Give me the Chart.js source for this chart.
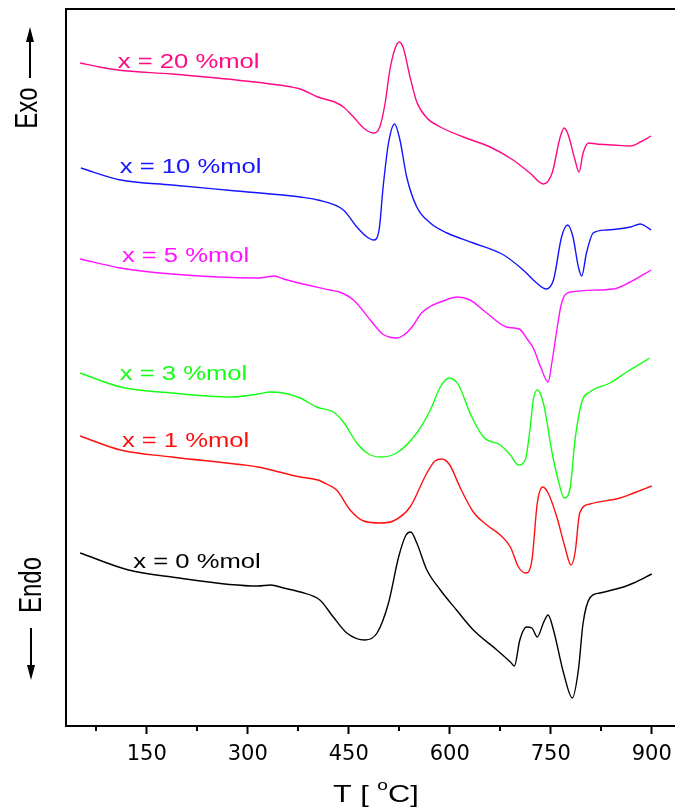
<!DOCTYPE html>
<html>
<head>
<meta charset="utf-8">
<script src="https://cdn.jsdelivr.net/npm/chart.js@4.4.1/dist/chart.umd.min.js"></script>
<style>
  html, body { margin: 0; padding: 0; background: #fff; overflow: hidden; }
  .chart-container { position: relative; width: 675px; height: 807px; }
</style>
</head>
<body>
<div class="chart-container"><canvas id="myChart"></canvas></div>
<script>
// DTA curves, temperature in deg C, signal in arbitrary units (curves offset)
const seriesNames = ['x = 20 %mol', 'x = 10 %mol', 'x = 5 %mol', 'x = 3 %mol', 'x = 1 %mol', 'x = 0 %mol'];
const seriesColors = ['#ff0a82', '#1414ff', '#ff14ff', '#14ff14', '#ff1010', '#000000'];
const tickValues = [75, 150, 225, 300, 375, 450, 525, 600, 675, 750, 825, 900];

const temp20 = [51, 80, 107, 187, 283, 365, 378, 404, 429, 442, 457, 472, 486, 496, 504, 511, 519, 525, 531, 541, 551, 566, 586, 620, 660, 694, 719, 739, 752, 764, 770, 776, 786, 792, 798, 806, 818, 843, 868, 883, 899];
const dta20  = [66.3, 65.9, 65.6, 65.2, 64.6, 63.9, 63.7, 62.9, 62.4, 61.9, 60.9, 59.8, 59.3, 59.9, 62.3, 65.6, 67.8, 68.4, 67.8, 64.9, 62.4, 60.8, 59.9, 58.9, 57.9, 56.6, 55.3, 54.2, 55.3, 58.9, 59.8, 59.1, 56.6, 55.4, 57.3, 58.3, 58.2, 58.1, 58.0, 58.4, 59.0];

const temp10 = [52, 111, 187, 283, 378, 404, 442, 462, 477, 487, 495, 501, 509, 518, 526, 536, 551, 571, 596, 635, 680, 709, 729, 743, 754, 766, 775, 783, 791, 796, 803, 813, 833, 868, 883, 890, 899];
const dta10  = [55.8, 54.6, 54.1, 53.5, 52.9, 52.6, 51.6, 49.9, 48.9, 48.6, 49.6, 53.9, 58.3, 60.2, 58.6, 54.9, 51.9, 50.3, 49.3, 48.3, 47.1, 45.6, 44.3, 43.7, 44.6, 48.9, 50.1, 48.9, 45.9, 45.0, 47.3, 49.3, 49.6, 49.9, 50.2, 50.0, 49.6];

const temp5 = [51, 111, 187, 315, 340, 353, 422, 436, 457, 482, 500, 510, 521, 532, 545, 558, 572, 590, 611, 630, 655, 684, 703, 716, 724, 735, 746, 752, 759, 765, 770, 779, 843, 868, 899];
const dta5  = [46.7, 45.8, 45.2, 44.8, 45.0, 44.7, 43.6, 43.4, 42.6, 40.6, 39.2, 38.9, 38.8, 39.1, 40.0, 41.3, 42.0, 42.5, 42.9, 42.6, 41.3, 39.9, 39.7, 38.6, 37.8, 35.9, 34.4, 36.5, 39.6, 42.0, 43.0, 43.4, 43.7, 44.4, 45.6];

const temp3 = [51, 111, 187, 276, 315, 334, 353, 378, 402, 427, 442, 462, 477, 497, 521, 551, 571, 586, 599, 613, 630, 650, 675, 690, 702, 712, 719, 724, 730, 739, 752, 761, 770, 779, 786, 796, 808, 838, 863, 897];
const dta3  = [35.3, 33.9, 33.3, 32.9, 33.2, 33.4, 33.3, 32.8, 31.9, 31.4, 30.4, 28.3, 27.3, 26.9, 27.3, 29.3, 31.6, 33.9, 34.8, 34.1, 31.3, 28.9, 28.1, 27.1, 26.1, 26.6, 29.6, 32.6, 33.6, 32.3, 27.3, 24.6, 22.8, 23.9, 28.6, 32.4, 33.4, 34.3, 35.4, 36.8];

const temp1 = [51, 111, 187, 295, 315, 378, 404, 417, 432, 452, 472, 497, 516, 541, 566, 578, 588, 600, 615, 635, 655, 675, 690, 702, 713, 722, 730, 738, 746, 759, 771, 780, 786, 793, 808, 853, 873, 900];
const dta1  = [29.0, 27.6, 26.9, 26.1, 25.9, 24.9, 24.6, 24.2, 23.6, 21.6, 20.5, 20.3, 20.5, 21.9, 25.3, 26.5, 26.7, 26.1, 23.9, 21.4, 20.1, 19.1, 17.9, 15.9, 15.3, 16.6, 22.3, 23.9, 23.3, 20.9, 17.9, 16.1, 17.3, 21.3, 22.2, 22.8, 23.3, 24.0];

const temp0 = [51, 123, 187, 315, 334, 353, 378, 407, 427, 447, 474, 492, 509, 524, 535, 542, 551, 566, 586, 610, 635, 670, 690, 696, 704, 714, 722, 730, 739, 746, 754, 769, 782, 791, 798, 808, 823, 858, 873, 900];
const dta0  = [17.3, 15.6, 14.9, 14.0, 14.1, 13.8, 13.4, 12.6, 10.9, 9.3, 8.6, 9.3, 12.3, 16.9, 19.1, 19.4, 18.3, 15.6, 13.6, 11.6, 9.6, 7.6, 6.4, 6.0, 8.6, 9.9, 9.8, 8.9, 10.3, 11.1, 9.6, 5.3, 2.8, 5.6, 10.3, 12.8, 13.3, 13.9, 14.3, 15.2];

const allTemps = [temp20, temp10, temp5, temp3, temp1, temp0];
const allDta = [dta20, dta10, dta5, dta3, dta1, dta0];

// where the curve names sit (deg C, a.u. of the baseline)
const nameAnchorT = [107, 110, 113, 110, 113, 130];
const nameAnchorV = [65.8, 55.3, 46.4, 34.6, 27.9, 15.8];

const TEXT_SX = 1.28; // the original picture is stretched sideways

function stretched(ctx, text, x, y, sx) {
    ctx.save();
    ctx.translate(x, y);
    ctx.scale(sx, 1);
    ctx.fillText(text, 0, 0);
    ctx.restore();
    return ctx.measureText(text).width * sx;
}

function arrow(ctx, x, y1, y2) {
    // line from y1 to tip at y2
    let dir = y2 > y1 ? 1 : -1;
    ctx.beginPath();
    ctx.moveTo(x, y1);
    ctx.lineTo(x, y2 - dir * 12);
    ctx.stroke();
    ctx.beginPath();
    ctx.moveTo(x, y2);
    ctx.lineTo(x - 4, y2 - dir * 15);
    ctx.lineTo(x + 4, y2 - dir * 15);
    ctx.closePath();
    ctx.fill();
}

const decor = {
    id: 'decor',
    afterDraw(chart) {
        const ctx = chart.ctx;
        const a = chart.chartArea;
        const xs = chart.scales.x;
        const ys = chart.scales.y;
        ctx.save();
        ctx.strokeStyle = '#000';
        ctx.fillStyle = '#000';
        ctx.lineWidth = 2;

        // frame: left and top
        ctx.beginPath();
        ctx.moveTo(a.left, a.bottom + 1);
        ctx.lineTo(a.left, a.top);
        ctx.lineTo(chart.width, a.top);
        ctx.stroke();

        // minor ticks
        ctx.beginPath();
        xs.ticks.forEach(function (t) {
            if (t.value % 150 !== 0) {
                let px = Math.round(xs.getPixelForValue(t.value));
                ctx.moveTo(px, a.bottom);
                ctx.lineTo(px, a.bottom + 5);
            }
        });
        ctx.stroke();

        // curve names
        ctx.textBaseline = 'alphabetic';
        ctx.textAlign = 'left';
        ctx.font = '20px "Liberation Sans", Arial, sans-serif';
        seriesNames.forEach(function (name, i) {
            ctx.fillStyle = seriesColors[i];
            stretched(ctx, name, xs.getPixelForValue(nameAnchorT[i]), ys.getPixelForValue(nameAnchorV[i]), TEXT_SX);
        });

        // x axis title: T [ oC]
        ctx.fillStyle = '#000';
        ctx.font = '24px "Liberation Sans", Arial, sans-serif';
        let tx = 333, ty = 802;
        tx += stretched(ctx, 'T [ ', tx, ty, TEXT_SX);
        ctx.font = '15px "Liberation Sans", Arial, sans-serif';
        tx += stretched(ctx, 'o', tx, ty - 12, TEXT_SX);
        ctx.font = '24px "Liberation Sans", Arial, sans-serif';
        stretched(ctx, 'C]', tx, ty, TEXT_SX);

        // Exo / Endo
        ctx.font = '24px "Liberation Sans", Arial, sans-serif';
        ctx.textAlign = 'center';
        ctx.textBaseline = 'middle';
        [['Exo', 28, 108], ['Endo', 32, 585]].forEach(function (lab) {
            ctx.save();
            ctx.translate(lab[1], lab[2]);
            ctx.rotate(-Math.PI / 2);
            ctx.scale(1, 1.3);
            ctx.fillText(lab[0], 0, 0);
            ctx.restore();
        });
        ctx.lineWidth = 2;
        arrow(ctx, 30, 78, 27);
        arrow(ctx, 31, 628, 680);

        ctx.restore();
    }
};

const datasets = seriesNames.map(function (name, i) {
    return {
        label: name,
        data: allTemps[i].map(function (t, j) { return { x: t, y: allDta[i][j] }; }),
        borderColor: seriesColors[i],
        borderWidth: 1.4,
        pointRadius: 0,
        fill: false,
        cubicInterpolationMode: 'monotone'
    };
});

const chart = new Chart(document.getElementById('myChart'), {
    type: 'line',
    data: { datasets: datasets },
    plugins: [decor],
    options: {
        animation: false,
        responsive: true,
        maintainAspectRatio: false,
        layout: { padding: { left: 66, top: 9, right: 0, bottom: 0 } },
        plugins: {
            legend: { display: false },
            tooltip: { enabled: false }
        },
        scales: {
            x: {
                type: 'linear',
                min: 30,
                max: 934.5,
                afterBuildTicks: function (scale) {
                    scale.ticks = tickValues.map(function (v) { return { value: v }; });
                },
                afterFit: function (scale) {
                    scale.height = 81;
                    // the frame runs off the right edge, no room kept for the last label
                    scale.paddingLeft = 0;
                    scale.paddingRight = 0;
                },
                border: { display: true, color: '#000', width: 2 },
                grid: {
                    drawOnChartArea: false,
                    drawTicks: true,
                    tickLength: 8,
                    tickWidth: 2,
                    color: function (c) {
                        return (c.tick && c.tick.value % 150 === 0) ? '#000' : 'rgba(0,0,0,0)';
                    }
                },
                ticks: {
                    autoSkip: false,
                    maxRotation: 0,
                    padding: 8,
                    color: '#000',
                    font: { family: 'DejaVu Sans', size: 21 },
                    callback: function (v) { return v % 150 === 0 ? String(v) : ''; }
                }
            },
            y: {
                display: false,
                min: 0,
                max: 71.7
            }
        }
    }
});
</script>
</body>
</html>
